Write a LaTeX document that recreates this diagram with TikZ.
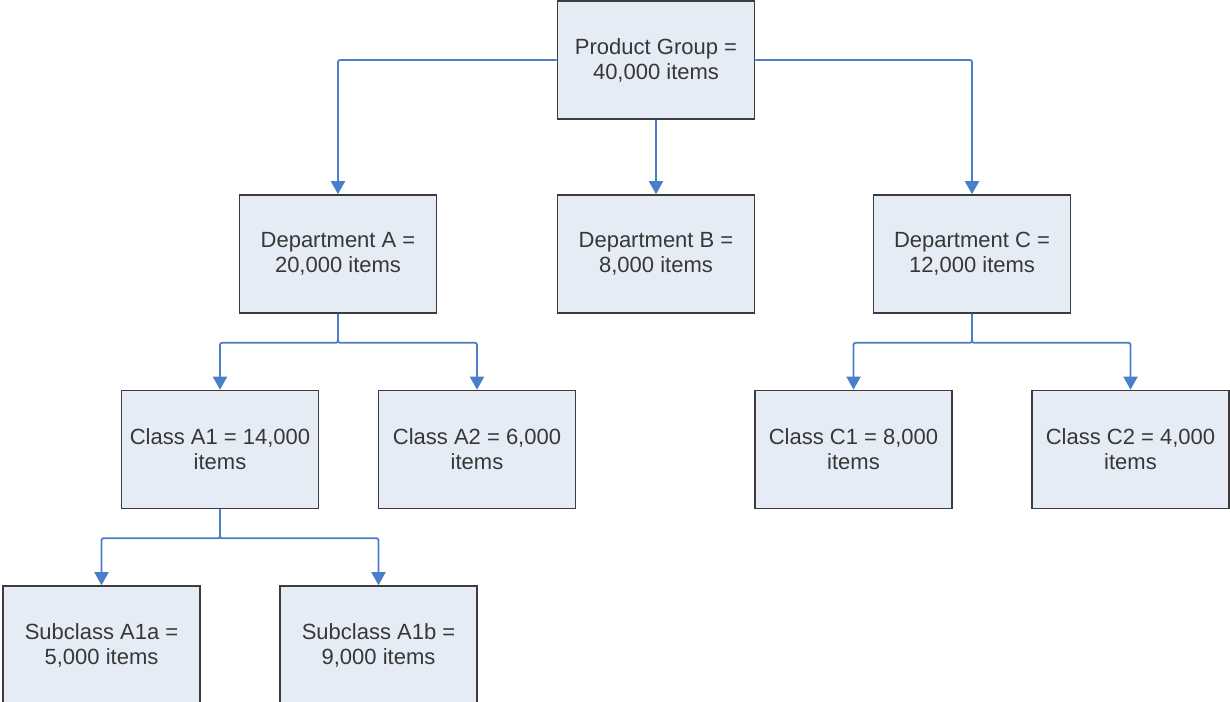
\documentclass[tikz,border=0pt]{standalone}
\usepackage{fontspec}
\setmainfont{Liberation Sans}
\usepackage{tikz}
\usetikzlibrary{arrows.meta}
\definecolor{boxfill}{RGB}{230,236,246}
\definecolor{boxline}{RGB}{60,60,60}
\definecolor{linkblue}{RGB}{74,126,200}
\definecolor{txt}{RGB}{55,55,55}
\begin{document}
\begin{tikzpicture}[x=1pt,y=-1pt,
  box/.style={draw=boxline,line width=1.6pt,fill=boxfill,minimum width=197pt,minimum height=118pt,
    inner sep=0pt,align=center,text=txt,font=\fontsize{22}{25}\selectfont},
  link/.style={draw=linkblue,line width=1.8pt,rounded corners=2pt,-{Triangle[width=14pt,length=13pt]}}]
\useasboundingbox (0,0) rectangle (1230,701);
% Boxes
\node[box] (pg) at (656,60) {Product Group =\\40,000 items};
\node[box] (dA) at (338,254) {Department A =\\20,000 items};
\node[box] (dB) at (656,254) {Department B =\\8,000 items};
\node[box] (dC) at (972,254) {Department C =\\12,000 items};
\node[box] (cA1) at (220,449.5) {Class A1 = 14,000\\items};
\node[box] (cA2) at (477,449.5) {Class A2 = 6,000\\items};
\node[box] (cC1) at (853.5,449.5) {Class C1 = 8,000\\items};
\node[box] (cC2) at (1130.5,449.5) {Class C2 = 4,000\\items};
\node[box] (sA1a) at (101.5,645) {Subclass A1a =\\5,000 items};
\node[box] (sA1b) at (378.5,645) {Subclass A1b =\\9,000 items};
% Links
\draw[link] (pg.west) -| (dA.north);
\draw[link] (pg.south) -- (dB.north);
\draw[link] (pg.east) -| (dC.north);
\draw[link] (dA.south) -- ++(0,29) -| (cA1.north);
\draw[link] (dA.south) -- ++(0,29) -| (cA2.north);
\draw[link] (dC.south) -- ++(0,29) -| (cC1.north);
\draw[link] (dC.south) -- ++(0,29) -| (cC2.north);
\draw[link] (cA1.south) -- ++(0,29) -| (sA1a.north);
\draw[link] (cA1.south) -- ++(0,29) -| (sA1b.north);
\end{tikzpicture}
\end{document}
